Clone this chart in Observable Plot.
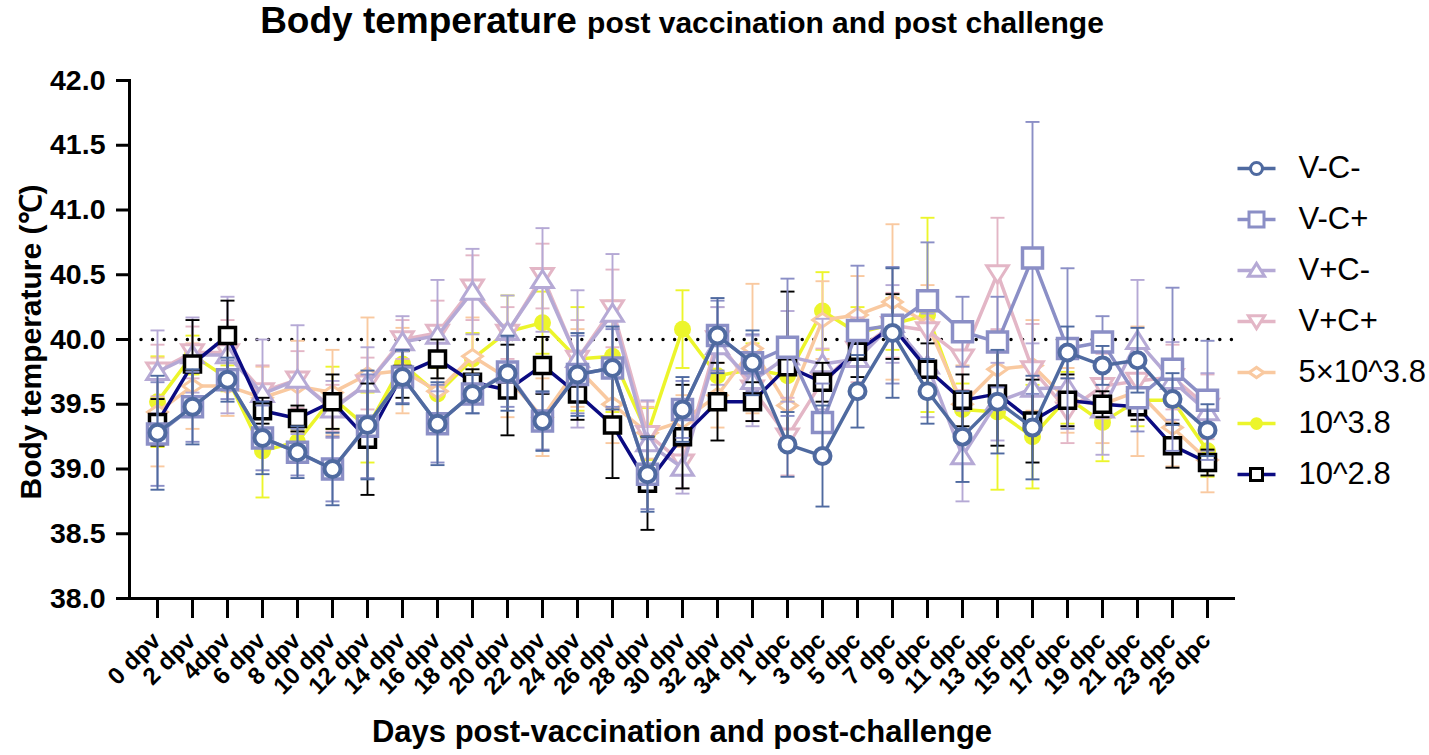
<!DOCTYPE html>
<html><head><meta charset="utf-8">
<script src="https://cdn.jsdelivr.net/npm/d3@7"></script>
<script src="https://cdn.jsdelivr.net/npm/@observablehq/plot@0.6"></script>
<style>
body{margin:0;background:#fff;font-family:"Liberation Sans",Arial,sans-serif;}
#wrap{position:relative;width:1429px;height:755px;overflow:hidden;background:#fff;}
#title{position:absolute;z-index:3;left:129px;width:1106px;top:0px;text-align:center;font-weight:bold;font-size:37px;color:#000;white-space:nowrap;}
#title span{font-size:30px;}
#xtitle{position:absolute;z-index:3;left:129px;width:1106px;top:714px;text-align:center;font-weight:bold;font-size:31px;}
#ytitle{position:absolute;z-index:3;left:29px;top:342px;transform:translate(-50%,-50%) rotate(-90deg);font-weight:bold;font-size:30px;white-space:nowrap;}
#main{position:absolute;z-index:1;left:0;top:50px;width:1429px;}
#legend{position:absolute;z-index:2;left:1230px;top:130px;width:199px;}
#main svg, #legend svg{max-width:none !important;}
</style>
</head><body>
<div id="wrap">
  <div id="main"></div>
  <div id="legend"></div>
  <div id="title">Body temperature <span>post vaccination and post challenge</span></div>
  <div id="ytitle">Body temperature (℃)</div>
  <div id="xtitle">Days post-vaccination and post-challenge</div>
</div>
<script>
// ---------- data ----------
const days = ["0 dpv","2 dpv","4dpv","6 dpv","8 dpv","10 dpv","12 dpv","14 dpv","16 dpv","18 dpv","20 dpv","22 dpv","24 dpv","26 dpv","28 dpv","30 dpv","32 dpv","34 dpv","1 dpc","3 dpc","5 dpc","7 dpc","9 dpc","11 dpc","13 dpc","15 dpc","17 dpc","19 dpc","21 dpc","23 dpc","25 dpc"];
const yTicks = [38.0,38.5,39.0,39.5,40.0,40.5,41.0,41.5,42.0];
const threshold = [40];
const seriesNames = ["V-C-","V-C+","V+C-","V+C+","5×10^3.8","10^3.8","10^2.8"];

const meanVCm = [39.28,39.48,39.69,39.24,39.13,39.00,39.34,39.71,39.35,39.58,39.74,39.37,39.73,39.78,38.96,39.46,40.03,39.82,39.19,39.10,39.60,40.05,39.60,39.25,39.52,39.32,39.90,39.80,39.84,39.54,39.30];
const sdVCm   = [0.44,0.29,0.17,0.28,0.20,0.28,0.42,0.21,0.32,0.15,0.29,0.23,0.32,0.32,0.29,0.25,0.29,0.25,0.25,0.39,0.28,0.50,0.25,0.35,0.40,0.40,0.20,0.15,0.25,0.20,0.20];
const meanVCp = [39.27,39.48,39.69,39.24,39.13,39.00,39.33,39.71,39.35,39.58,39.75,39.37,39.73,39.78,38.96,39.46,40.03,39.82,39.94,39.36,40.07,40.11,40.30,40.06,39.98,40.63,39.93,39.98,39.55,39.77,39.53];
const sdVCp   = [0.40,0.27,0.15,0.25,0.18,0.25,0.40,0.20,0.30,0.15,0.27,0.22,0.30,0.30,0.27,0.22,0.27,0.22,0.53,0.30,0.50,0.45,0.45,0.27,0.35,1.05,0.62,0.20,0.26,0.63,0.46];
const meanVpCm = [39.75,39.88,39.88,39.58,39.69,39.46,39.66,39.98,40.03,40.37,40.06,40.46,39.85,40.20,39.20,39.01,39.95,39.68,39.87,39.81,39.85,40.12,39.80,39.10,39.52,39.62,39.63,39.46,39.99,39.68,39.44];
const sdVpCm   = [0.32,0.29,0.45,0.42,0.42,0.22,0.28,0.20,0.43,0.33,0.28,0.40,0.53,0.46,0.33,0.20,0.30,0.35,0.35,0.35,0.30,0.30,0.40,0.35,0.30,0.35,0.30,0.35,0.47,0.30,0.30];
const meanVpCp = [39.76,39.90,39.90,39.60,39.69,39.47,39.66,40.00,40.05,40.40,40.05,40.49,39.85,40.24,39.27,39.05,40.00,39.62,39.25,39.68,39.92,40.11,40.07,39.86,40.51,39.77,39.45,39.64,39.68,39.71,39.48];
const sdVpCp   = [0.20,0.20,0.25,0.20,0.22,0.18,0.20,0.15,0.25,0.25,0.20,0.25,0.30,0.30,0.25,0.20,0.25,0.25,0.30,0.25,0.25,0.25,0.30,0.25,0.43,0.35,0.25,0.25,0.30,0.25,0.25];
const mean5e38 = [39.44,39.64,39.64,39.55,39.64,39.59,39.73,39.76,39.60,39.87,39.70,39.40,39.78,39.50,39.28,39.37,39.57,39.93,39.49,40.15,40.19,40.29,40.12,39.50,39.77,39.80,39.53,39.50,39.60,39.32,39.07];
const sd5e38   = [0.42,0.33,0.23,0.24,0.35,0.33,0.44,0.33,0.30,0.30,0.30,0.30,0.30,0.30,0.20,0.20,0.25,0.50,0.25,0.30,0.30,0.60,0.30,0.30,0.30,0.35,0.25,0.30,0.50,0.30,0.25];
const mean1e38 = [39.52,39.88,39.70,39.14,39.21,39.55,39.32,39.81,39.58,39.85,40.06,40.13,39.85,39.87,39.27,40.08,39.72,39.77,39.72,40.22,40.05,40.12,40.19,39.46,39.44,39.25,39.55,39.36,39.53,39.53,39.14];
const sd1e38   = [0.35,0.15,0.10,0.36,0.10,0.24,0.27,0.10,0.20,0.20,0.28,0.24,0.40,0.43,0.20,0.30,0.20,0.20,0.20,0.30,0.20,0.20,0.75,0.20,0.60,0.40,0.20,0.30,0.20,0.20,0.20];
const mean1e28 = [39.36,39.81,40.03,39.45,39.39,39.52,39.23,39.73,39.85,39.67,39.61,39.80,39.58,39.34,38.89,39.25,39.52,39.52,39.79,39.67,39.91,40.10,39.77,39.53,39.58,39.37,39.53,39.50,39.48,39.18,39.05];
const sd1e28   = [0.18,0.34,0.27,0.10,0.10,0.21,0.43,0.18,0.15,0.10,0.35,0.22,0.20,0.41,0.36,0.40,0.30,0.15,0.58,0.15,0.20,0.25,0.20,0.20,0.40,0.32,0.20,0.10,0.10,0.17,0.10];

// ---------- styles ----------
function rad(size){ return Math.sqrt(size/Math.PI); }
const symSquare = {draw(c,s){const r=rad(s);c.moveTo(-r,-r);c.lineTo(r,-r);c.lineTo(r,r);c.lineTo(-r,r);c.closePath();}};
const symTriUp = {draw(c,s){const r=rad(s);c.moveTo(0,-r*1.05);c.lineTo(r*1.2,r*0.85);c.lineTo(-r*1.2,r*0.85);c.closePath();}};
const symTriDown = {draw(c,s){const r=rad(s);c.moveTo(0,r*1.05);c.lineTo(r*1.2,-r*0.85);c.lineTo(-r*1.2,-r*0.85);c.closePath();}};
const symDiamond = {draw(c,s){const r=rad(s);c.moveTo(-r*1.15,0);c.lineTo(0,-r*0.8);c.lineTo(r*1.15,0);c.lineTo(0,r*0.8);c.closePath();}};
const symCap = {draw(c,s){const r=rad(s);c.moveTo(-r,0);c.lineTo(r,0);}};

const series = [
  {name:"10^3.8",   mean:mean1e38, sd:sd1e38, line:"#ecf52b", mark:"#ecf52b", fill:"#ecf52b", symbol:"circle", r:8.5, sw:0},
  {name:"5×10^3.8", mean:mean5e38, sd:sd5e38, line:"#f9c9a0", mark:"#f9c9a0", fill:"white", symbol:symDiamond, r:8.5, sw:3},
  {name:"V+C+",     mean:meanVpCp, sd:sdVpCp, line:"#e3b6c6", mark:"#e3b6c6", fill:"white", symbol:symTriDown, r:9, sw:3},
  {name:"V+C-",     mean:meanVpCm, sd:sdVpCm, line:"#b5a9d5", mark:"#b5a9d5", fill:"white", symbol:symTriUp, r:9, sw:3},
  {name:"10^2.8",   mean:mean1e28, sd:sd1e28, line:"#0b0b82", mark:"#000000", fill:"white", symbol:symSquare, r:8, sw:3.5, bar:"#000000"},
  {name:"V-C+",     mean:meanVCp,  sd:sdVCp,  line:"#8b8fc6", mark:"#8b8fc6", fill:"white", symbol:symSquare, r:10, sw:3.5},
  {name:"V-C-",     mean:meanVCm,  sd:sdVCm,  line:"#4f6aa0", mark:"#4f6aa0", fill:"white", symbol:"circle", r:8, sw:4}
];

const marks = [
  Plot.ruleY(threshold, {stroke:"black", strokeWidth:3.5, strokeDasharray:"0,11.6", strokeLinecap:"round", strokeDashoffset:-12})
];
for (const s of series) {
  const rows = days.map((d,i)=>({day:d, m:s.mean[i], lo:s.mean[i]-s.sd[i], hi:s.mean[i]+s.sd[i]}));
  const bc = s.bar || s.line;
  marks.push(Plot.ruleX(rows, {x:"day", y1:"lo", y2:"hi", stroke:bc, strokeWidth:1.9}));
  marks.push(Plot.dot(rows, {x:"day", y:"lo", symbol:symCap, r:7, stroke:bc, strokeWidth:1.9, fill:"none"}));
  marks.push(Plot.dot(rows, {x:"day", y:"hi", symbol:symCap, r:7, stroke:bc, strokeWidth:1.9, fill:"none"}));
  marks.push(Plot.line(rows, {x:"day", y:"m", stroke:s.line, strokeWidth:3.5, strokeLinejoin:"miter"}));
  marks.push(Plot.dot(rows, {x:"day", y:"m", symbol:s.symbol, r:s.r, fill:s.fill, stroke:s.sw? s.mark : "none", strokeWidth:s.sw}));
}
marks.push(Plot.ruleY([38], {stroke:"black", strokeWidth:3}));
marks.push(Plot.frame({anchor:"left", stroke:"black", strokeWidth:3}));
marks.push(Plot.axisY({ticks:yTicks, tickFormat:d=>d.toFixed(1), tickSize:13, tickPadding:11, strokeWidth:3, fontSize:28.5, fontWeight:"bold", label:null}));
marks.push(Plot.axisX({tickSize:20, strokeWidth:3, tickFormat:()=>"", label:null}));
// x tick labels drawn as a text mark on the x scale
marks.push(Plot.text(days, {x:d=>d, text:d=>d, frameAnchor:"bottom", dy:38, dx:-1, rotate:-45, textAnchor:"end", lineAnchor:"middle", fontSize:24, fontWeight:"bold", fill:"black"}));

const chart = Plot.plot({
  width:1429, height:705,
  marginLeft:129, marginRight:194, marginTop:30, marginBottom:157,
  style:{fontFamily:"'Liberation Sans', Arial, sans-serif", color:"black", background:"transparent", overflow:"visible"},
  x:{type:"point", domain:days, padding:0.66},
  y:{domain:[38,42]},
  marks
});
document.getElementById("main").appendChild(chart);

// ---------- legend ----------
const legendRows = seriesNames.map(n => series.find(s=>s.name===n));
const legend = Plot.plot({
  width:199, height:400, marginLeft:0, marginRight:0, marginTop:37, marginBottom:55,
  style:{fontFamily:"'Liberation Sans', Arial, sans-serif", color:"black", background:"transparent", overflow:"visible"},
  y:{type:"point", domain:seriesNames, padding:0, axis:null},
  marks: [
    ...legendRows.map(s => Plot.dot([s], {y:"name", frameAnchor:"left", dx:26, symbol:symCap, r:19, stroke:s.line, strokeWidth:3.5, fill:"none"})),
    ...legendRows.map(s => Plot.dot([s], {y:"name", frameAnchor:"left", dx:26, symbol:s.symbol, r:s.r*0.75, fill:s.fill, stroke:s.sw? s.mark:"none", strokeWidth:s.sw? 3:0})),
    Plot.text(legendRows, {y:"name", text:"name", frameAnchor:"left", dx:68, textAnchor:"start", fontSize:31, fill:"black"})
  ]
});
document.getElementById("legend").appendChild(legend);
</script>
</body></html>
